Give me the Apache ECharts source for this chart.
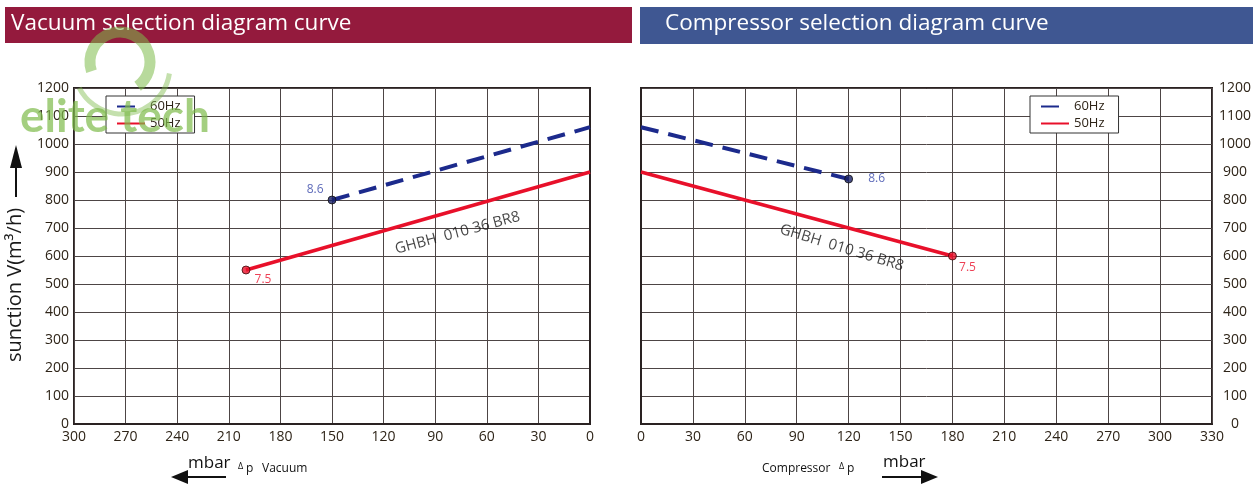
<!DOCTYPE html>
<html><head><meta charset="utf-8">
<script src="https://cdn.jsdelivr.net/npm/echarts@6/dist/echarts.min.js"></script>
<style>html,body{margin:0;padding:0;background:#fff}#c{width:1260px;height:490px}</style>
</head><body><div id="c"></div>
<script>
// ---- data ----
const yTicks = [0,100,200,300,400,500,600,700,800,900,1000,1100,1200];
const vacuumTicks = [0,30,60,90,120,150,180,210,240,270,300];
const compressorTicks = [0,30,60,90,120,150,180,210,240,270,300,330];
const vac60X = [150, 0];     const vac60Y = [800, 1060];
const vac50X = [200, 0];     const vac50Y = [550, 900];
const comp60X = [0, 120];    const comp60Y = [1060, 875];
const comp50X = [0, 180];    const comp50Y = [900, 600];
const vacEnd = {x60: 150, y60: 800, l60: '8.6', x50: 200, y50: 550, l50: '7.5'};
const compEnd = {x60: 120, y60: 875, l60: '8.6', x50: 180, y50: 600, l50: '7.5'};
const modelName = 'GHBH  010 36 BR8';
const vacModelPos = [77, 682];
const compModelPos = [116, 629];

const zip = (xs, ys) => xs.map((x, i) => [x, ys[i]]);
const FONT = "'Open Sans', 'Noto Sans', sans-serif";
const C60 = '#1c2a8c', C50 = '#e8102a', LBL = '#2e2418';

const chart = echarts.init(document.getElementById('c'));
const axisLabel = {color: LBL, fontFamily: FONT, fontSize: 14, formatter: v => String(v)};
const splitLine = {show: true, lineStyle: {color: '#4d4545', width: 1}};
const axisLine = {show: true, lineStyle: {color: '#2a2222', width: 2}};

function lineSeries(name, data, xi, dashed) {
  return {
    type: 'line', name, xAxisIndex: xi, yAxisIndex: xi, data, symbol: 'none',
    lineStyle: dashed ? {color: C60, width: 4, type: [18, 10]} : {color: C50, width: 3.5},
    itemStyle: {color: dashed ? C60 : C50}, z: 5, silent: true
  };
}
function endSeries(xi, e) {
  return {
    type: 'scatter', xAxisIndex: xi, yAxisIndex: xi, symbolSize: 8, z: 6, silent: true,
    data: [
      {value: [e.x60, e.y60], itemStyle: {color: '#1a2266', borderColor: '#111', borderWidth: 1},
       label: {show: true, formatter: e.l60, color: '#3545a8', fontSize: 12, fontFamily: FONT,
               position: xi === 0 ? 'left' : 'right', distance: xi === 0 ? 4 : 15, offset: xi === 0 ? [0, -10] : [0, 0]}},
      {value: [e.x50, e.y50], itemStyle: {color: '#e8102a', borderColor: '#3a0a0a', borderWidth: 1},
       label: {show: true, formatter: e.l50, color: '#e8102a', fontSize: 12, fontFamily: FONT,
               position: 'inside', offset: xi === 0 ? [17, 10] : [15, 12]}}
    ]
  };
}
function modelSeries(xi, pos, rot) {
  return {
    type: 'scatter', xAxisIndex: xi, yAxisIndex: xi, symbolSize: 0, silent: true, z: 7,
    data: [pos],
    label: {show: true, formatter: modelName, position: 'inside', rotate: rot,
            color: '#151515', fontSize: 15, fontFamily: FONT}
  };
}
const legendBase = {
  orient: 'vertical', top: 96, itemWidth: 28, itemHeight: 12, itemGap: 4,
  borderColor: '#333', borderWidth: 1, padding: [4, 14, 3, 10], backgroundColor: '#fff',
  itemStyle: {opacity: 0, color: 'transparent', borderWidth: 0},
  textStyle: {color: LBL, fontFamily: FONT, fontSize: 13}, data: ['60Hz', '50Hz'], selectedMode: false
};

const G = '#7dbb4a';
chart.setOption({
  animation: false,
  grid: [
    {left: 74, right: 670, top: 88, bottom: 66, show: true, borderColor: '#2a2222', borderWidth: 2},
    {left: 641, right: 48, top: 88, bottom: 66, show: true, borderColor: '#2a2222', borderWidth: 2}
  ],
  xAxis: [
    {gridIndex: 0, type: 'value', min: 0, max: 300, interval: 30, inverse: true,
     axisLabel: Object.assign({}, axisLabel, {margin: 6}), splitLine, axisLine, axisTick: {show: false}},
    {gridIndex: 1, type: 'value', min: 0, max: 330, interval: 30,
     axisLabel: Object.assign({}, axisLabel, {margin: 6}), splitLine, axisLine, axisTick: {show: false}}
  ],
  yAxis: [
    {gridIndex: 0, type: 'value', min: 0, max: 1200, interval: 100, position: 'left',
     axisLabel: Object.assign({}, axisLabel, {margin: 5}), splitLine, axisLine, axisTick: {show: false}},
    {gridIndex: 1, type: 'value', min: 0, max: 1200, interval: 100, position: 'right',
     axisLabel: Object.assign({}, axisLabel, {margin: 23, align: 'center'}), splitLine, axisLine, axisTick: {show: false}}
  ],
  legend: [
    Object.assign({left: 106}, legendBase),
    Object.assign({left: 1030}, legendBase)
  ],
  series: [
    lineSeries('60Hz', zip(vac60X, vac60Y), 0, true),
    lineSeries('50Hz', zip(vac50X, vac50Y), 0, false),
    endSeries(0, vacEnd),
    modelSeries(0, vacModelPos, 15),
    lineSeries('60Hz', zip(comp60X, comp60Y), 1, true),
    lineSeries('50Hz', zip(comp50X, comp50Y), 1, false),
    endSeries(1, compEnd),
    modelSeries(1, compModelPos, -17)
  ],
  graphic: [
    {type: 'rect', left: 5, top: 7, shape: {width: 627, height: 36}, style: {fill: '#941a3d'}, z: 1},
    {type: 'rect', left: 640, top: 7, shape: {width: 613, height: 37}, style: {fill: '#3f5792'}, z: 1},
    {type: 'text', left: 11, top: 12, style: {text: 'Vacuum selection diagram curve', fill: '#fff', font: "22.5px " + FONT}, z: 2},
    {type: 'text', left: 665, top: 12, style: {text: 'Compressor selection diagram curve', fill: '#fff', font: "22.5px " + FONT}, z: 2},
    // watermark logo
    {type: 'arc', shape: {cx: 120, cy: 62, r: 30, startAngle: Math.PI * 0.9, endAngle: Math.PI * 2.3},
     style: {stroke: G, lineWidth: 11, fill: null, opacity: 0.55}, z: 20, silent: true},
    {type: 'arc', shape: {cx: 122, cy: 66, r: 48, startAngle: Math.PI * 0.05, endAngle: Math.PI * 0.85},
     style: {stroke: G, lineWidth: 5, fill: null, opacity: 0.45}, z: 20, silent: true},
    {type: 'text', left: 20, top: 94, style: {text: 'elite tech', fill: G, opacity: 0.7, font: "bold 46px Lato, " + FONT}, z: 20, silent: true},
    // y axis title
    {type: 'text', x: 15, y: 285, rotation: Math.PI / 2,
     style: {text: 'sunction V(m³/h)', fill: '#1a1a1a', font: "20px " + FONT, align: 'center', verticalAlign: 'middle'}},
    {type: 'line', shape: {x1: 16, y1: 197, x2: 16, y2: 160}, style: {stroke: '#111', lineWidth: 2}},
    {type: 'polygon', shape: {points: [[16, 145], [10, 168], [22, 168]]}, style: {fill: '#111'}},
    // bottom left
    {type: 'text', left: 188, top: 455, style: {text: 'mbar', fill: '#111', font: "17px " + FONT}},
    {type: 'line', shape: {x1: 182, y1: 477, x2: 226, y2: 477}, style: {stroke: '#111', lineWidth: 2}},
    {type: 'polygon', shape: {points: [[171, 477], [188, 470], [188, 484]]}, style: {fill: '#111'}},
    {type: 'text', left: 238, top: 462, style: {text: 'Δ', fill: '#111', font: "9px " + FONT}},
    {type: 'text', left: 246, top: 463, style: {text: 'p', fill: '#111', font: "12px " + FONT}},
    {type: 'text', left: 262, top: 463, style: {text: 'Vacuum', fill: '#111', font: "12px " + FONT}},
    // bottom right
    {type: 'text', left: 762, top: 463, style: {text: 'Compressor', fill: '#111', font: "12px " + FONT}},
    {type: 'text', left: 839, top: 462, style: {text: 'Δ', fill: '#111', font: "9px " + FONT}},
    {type: 'text', left: 847, top: 463, style: {text: 'p', fill: '#111', font: "12px " + FONT}},
    {type: 'text', left: 883, top: 454, style: {text: 'mbar', fill: '#111', font: "17px " + FONT}},
    {type: 'line', shape: {x1: 882, y1: 477, x2: 926, y2: 477}, style: {stroke: '#111', lineWidth: 2}},
    {type: 'polygon', shape: {points: [[938, 477], [921, 470], [921, 484]]}, style: {fill: '#111'}}
  ]
});
</script></body></html>
